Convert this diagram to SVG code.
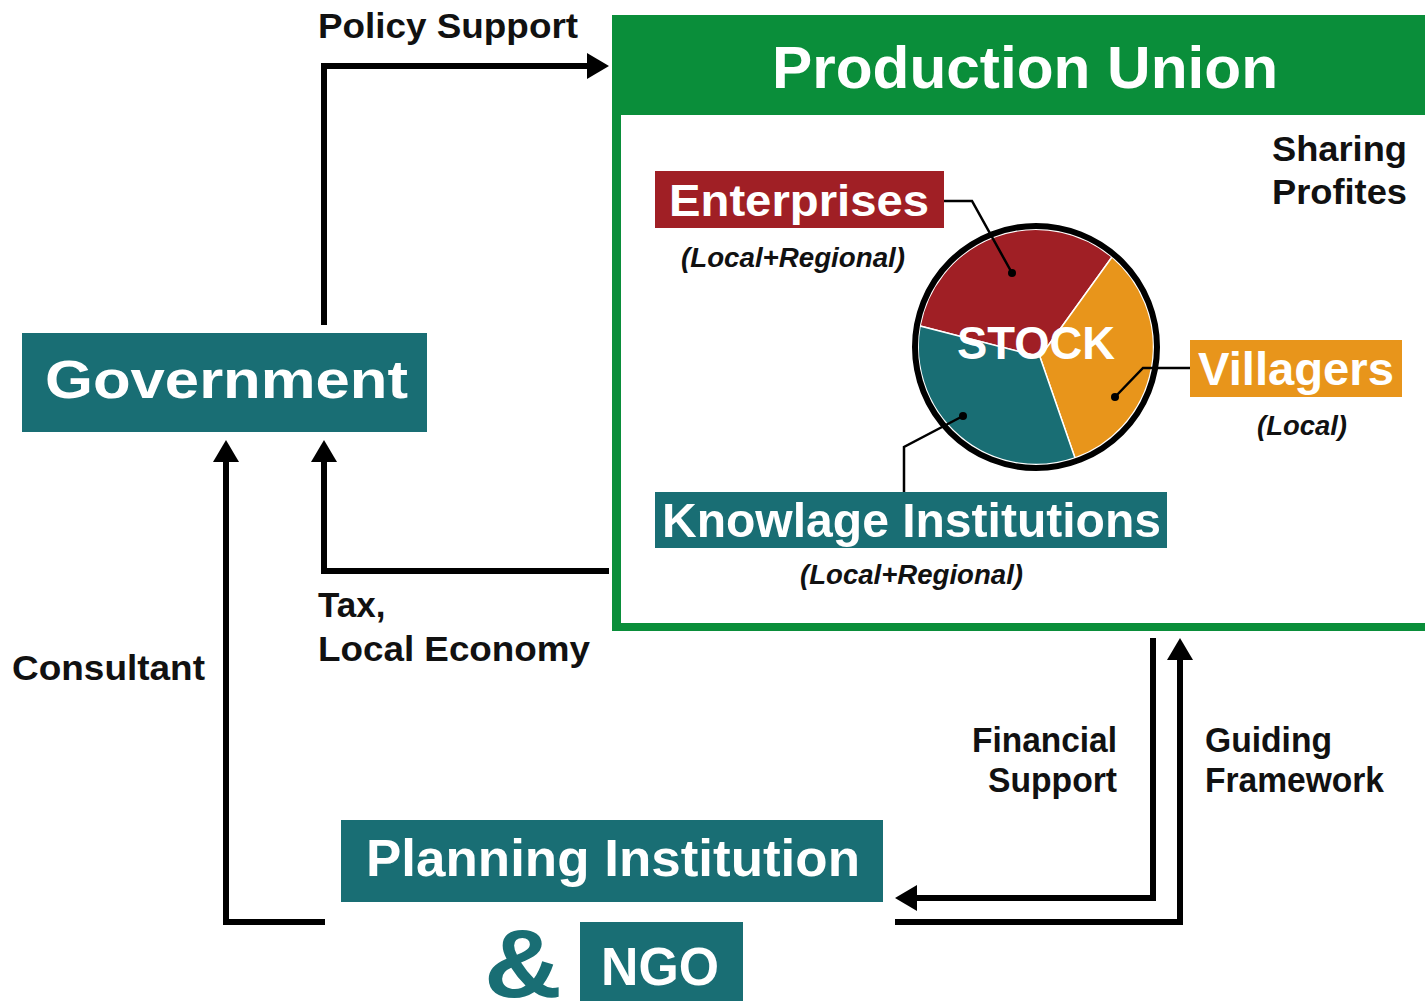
<svg xmlns="http://www.w3.org/2000/svg" width="1425" height="1001" viewBox="0 0 1425 1001">
<style>
text{font-family:"Liberation Sans",Arial,Helvetica,sans-serif;font-weight:bold}
.lbl{fill:#111;font-size:35px}
.wt{fill:#fff}
.it{fill:#111;font-size:27px;font-style:italic}
.teal{fill:#196E74}
.conn{fill:none;stroke:#000;stroke-width:6}
.lead{fill:none;stroke:#000;stroke-width:2.5}
</style>
<defs>
<marker id="ah" viewBox="0 0 22 26" refX="0" refY="13" markerWidth="22" markerHeight="26" markerUnits="userSpaceOnUse" orient="auto"><path d="M0,0 L22,13 L0,26 z" fill="#000"/></marker>
</defs>
<rect width="1425" height="1001" fill="#fff"/>

<g id="production-union">
<rect x="612" y="15" width="830" height="616" fill="#0A8E3A"/>
<rect x="621" y="115" width="830" height="508" fill="#fff"/>
<text class="wt" x="1025" y="88" font-size="60" text-anchor="middle" textLength="506" lengthAdjust="spacingAndGlyphs">Production Union</text>
<text class="lbl" x="1272" y="161" font-size="34" textLength="135" lengthAdjust="spacingAndGlyphs">Sharing</text>
<text class="lbl" x="1272" y="204" font-size="34" textLength="135" lengthAdjust="spacingAndGlyphs">Profites</text>
</g>

<g id="stock">
<path d="M1040,357 L920,326 A118,118 0 0 1 1112,257 Z" fill="#A01F25" stroke="#fff" stroke-width="1.5"/>
<path d="M1040,357 L1112,257 A118,118 0 0 1 1075,458 Z" fill="#E8951B" stroke="#fff" stroke-width="1.5"/>
<path d="M1040,357 L1075,458 A118,118 0 0 1 920,326 Z" fill="#196E74" stroke="#fff" stroke-width="1.5"/>
<circle cx="1036" cy="347" r="121" fill="none" stroke="#000" stroke-width="6"/>
<text class="wt" x="1036" y="359" font-size="46" text-anchor="middle" textLength="158" lengthAdjust="spacingAndGlyphs">STOCK</text>
</g>

<g id="enterprises">
<rect x="655" y="171" width="289" height="57" fill="#A01F25"/>
<text class="wt" x="669" y="216" font-size="44" textLength="260" lengthAdjust="spacingAndGlyphs">Enterprises</text>
<text class="it" x="681" y="267" textLength="224" lengthAdjust="spacingAndGlyphs">(Local+Regional)</text>
</g>

<g id="villagers">
<rect x="1190" y="340" width="212" height="57" fill="#E8951B"/>
<text class="wt" x="1198" y="385" font-size="46" textLength="196" lengthAdjust="spacingAndGlyphs">Villagers</text>
<text class="it" x="1257" y="435" textLength="90" lengthAdjust="spacingAndGlyphs">(Local)</text>
</g>

<g id="knowlage-institutions">
<rect x="655" y="492" width="512" height="56" fill="#196E74"/>
<text class="wt" x="662" y="537" font-size="48" textLength="499" lengthAdjust="spacingAndGlyphs">Knowlage Institutions</text>
<text class="it" x="800" y="584" textLength="223" lengthAdjust="spacingAndGlyphs">(Local+Regional)</text>
</g>

<g id="government">
<rect x="22" y="333" width="405" height="99" fill="#196E74"/>
<text class="wt" x="45" y="398" font-size="54" textLength="363" lengthAdjust="spacingAndGlyphs">Government</text>
</g>

<g id="planning-institution">
<rect x="341" y="820" width="542" height="82" fill="#196E74"/>
<text class="wt" x="366" y="876" font-size="52" textLength="494" lengthAdjust="spacingAndGlyphs">Planning Institution</text>
</g>

<g id="ngo">
<text class="teal" x="484" y="997" font-size="96" textLength="78" lengthAdjust="spacingAndGlyphs">&amp;</text>
<rect x="580" y="922" width="163" height="90" fill="#196E74"/>
<text class="wt" x="601" y="985" font-size="54" textLength="118" lengthAdjust="spacingAndGlyphs">NGO</text>
</g>

<g id="connectors">
<path class="conn" d="M324,325 V66 H587" marker-end="url(#ah)"/>
<path class="conn" d="M609,571 H324 V462" marker-end="url(#ah)"/>
<path class="conn" d="M325,922 H226 V462" marker-end="url(#ah)"/>
<path class="conn" d="M1153,638 V898 H917" marker-end="url(#ah)"/>
<path class="conn" d="M895,922 H1180 V660" marker-end="url(#ah)"/>
<path class="lead" d="M944,201 H972 L1012,273"/>
<circle cx="1012" cy="273" r="4"/>
<path class="lead" d="M1190,368 H1143 L1115,397"/>
<circle cx="1115" cy="397" r="4"/>
<path class="lead" d="M904,492 V447 L963,416"/>
<circle cx="963" cy="416" r="4"/>
<text class="lbl" x="318" y="38" textLength="260" lengthAdjust="spacingAndGlyphs">Policy Support</text>
<text class="lbl" x="318" y="617">Tax,</text>
<text class="lbl" x="318" y="661" textLength="272" lengthAdjust="spacingAndGlyphs">Local Economy</text>
<text class="lbl" x="12" y="680" font-size="34" textLength="193" lengthAdjust="spacingAndGlyphs">Consultant</text>
<text class="lbl" x="972" y="752" font-size="34" textLength="145" lengthAdjust="spacingAndGlyphs">Financial</text>
<text class="lbl" x="988" y="792" font-size="34" textLength="129" lengthAdjust="spacingAndGlyphs">Support</text>
<text class="lbl" x="1205" y="752" font-size="34" textLength="127" lengthAdjust="spacingAndGlyphs">Guiding</text>
<text class="lbl" x="1205" y="792" font-size="34" textLength="179" lengthAdjust="spacingAndGlyphs">Framework</text>
</g>
</svg>
